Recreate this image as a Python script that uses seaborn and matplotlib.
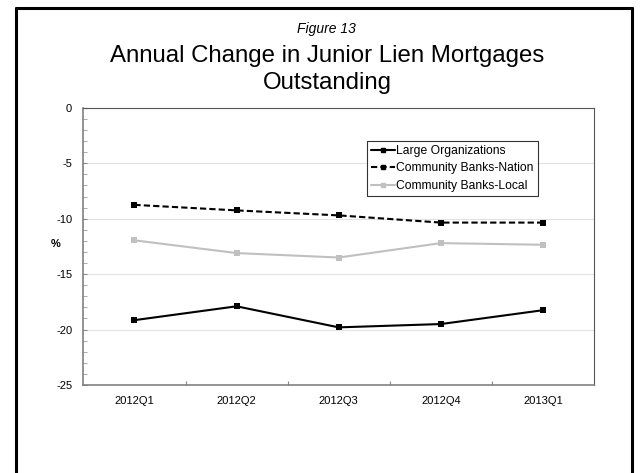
import matplotlib
matplotlib.use("Agg")
import matplotlib.pyplot as plt
import matplotlib.lines as mlines
from matplotlib.ticker import MultipleLocator, FixedLocator
import seaborn as sns
import pandas as pd

quarters = ["2012Q1", "2012Q2", "2012Q3", "2012Q4", "2013Q1"]
large_orgs = [-19.15, -17.9, -19.8, -19.5, -18.25]
community_nation = [-8.75, -9.25, -9.7, -10.35, -10.35]
community_local = [-11.95, -13.1, -13.5, -12.2, -12.35]

series_names = ["Large Organizations", "Community Banks-Nation", "Community Banks-Local"]

df = pd.DataFrame({
    "quarter": quarters * 3,
    "pos": list(range(len(quarters))) * 3,
    "value": large_orgs + community_nation + community_local,
    "series": [series_names[0]] * 5 + [series_names[1]] * 5 + [series_names[2]] * 5,
})

sns.set_theme(style="white")
plt.rcParams["font.family"] = ["Liberation Sans", "DejaVu Sans"]
plt.rcParams["axes.unicode_minus"] = False
plt.rcParams["text.color"] = "black"
plt.rcParams["axes.labelcolor"] = "black"
plt.rcParams["xtick.color"] = "black"
plt.rcParams["ytick.color"] = "black"

fig = plt.figure(figsize=(6.41, 4.73), dpi=100)
ax = fig.add_axes([0.130, 0.186, 0.797, 0.586])

palette = {series_names[0]: "black", series_names[1]: "black", series_names[2]: "#c0c0c0"}
dashes = {series_names[0]: "", series_names[1]: (3, 1.5), series_names[2]: ""}

sns.lineplot(data=df, x="pos", y="value", hue="series", style="series",
             palette=palette, dashes=dashes, markers={n: "s" for n in series_names},
             markersize=5, markeredgewidth=0, linewidth=1.5, ax=ax, legend=False)

ax.set_xlim(-0.5, 4.5)
ax.set_ylim(-25, 0)
ax.set_xticks(range(len(quarters)))
ax.set_xticklabels(quarters, fontsize=8)
ax.xaxis.set_minor_locator(FixedLocator([0.5, 1.5, 2.5, 3.5]))
ax.tick_params(axis="x", which="major", bottom=False, length=0, pad=8)
ax.tick_params(axis="x", which="minor", bottom=True, direction="in", length=3,
               color="#888888", width=0.8)
ax.set_yticks([-25, -20, -15, -10, -5, 0])
ax.yaxis.set_minor_locator(MultipleLocator(1))
ax.tick_params(axis="y", which="major", left=True, labelsize=8, direction="in", length=3,
               color="#888888", width=0.8, pad=8)
ax.tick_params(axis="y", which="minor", left=True, direction="in", length=3,
               color="#999999", width=0.6)
ax.set_xlabel("")
ax.set_ylabel("%", fontsize=8, fontweight="bold", rotation=0)
ax.yaxis.set_label_coords(-0.055, 0.49)

for yv in [-5, -10, -15, -20]:
    ax.axhline(yv, color="#e2e2e2", linewidth=0.8, zorder=0)

for side in ["left", "bottom"]:
    ax.spines[side].set_color("#808080")
    ax.spines[side].set_linewidth(1.2)
for side in ["top", "right"]:
    ax.spines[side].set_color("#555555")
    ax.spines[side].set_linewidth(0.8)

handles = [
    mlines.Line2D([], [], color="black", linestyle="-", marker="s", markersize=3.5, linewidth=1.5),
    mlines.Line2D([], [], color="black", linestyle=(0, (3, 1.5)), marker="s", markersize=3.5, linewidth=1.5),
    mlines.Line2D([], [], color="#c0c0c0", linestyle="-", marker="s", markersize=3.5, linewidth=1.5),
]
leg = ax.legend(handles, series_names, loc="upper left", bbox_to_anchor=(0.555, 0.881),
                fontsize=8.7, frameon=True, fancybox=False, shadow=False,
                handlelength=2.0, handletextpad=0.1, borderpad=0.35, labelspacing=0.45,
                borderaxespad=0)
leg.get_frame().set_edgecolor("black")
leg.get_frame().set_linewidth(0.8)

fig.text(0.51, 1 - 33 / 473, "Figure 13", ha="center", va="baseline", fontsize=10, style="italic")
fig.text(0.51, 1 - 62 / 473, "Annual Change in Junior Lien Mortgages", ha="center", va="baseline", fontsize=17.3)
fig.text(0.51, 1 - 88.5 / 473, "Outstanding", ha="center", va="baseline", fontsize=17.3)

# outer frame around the whole figure (open at the bottom)
x0, x1 = 16 / 641, 632 / 641
ytop = 1 - 8 / 473
for xs, ys in [([x0, x0], [-0.01, ytop]), ([x0, x1], [ytop, ytop]), ([x1, x1], [ytop, -0.01])]:
    fig.add_artist(mlines.Line2D(xs, ys, color="black", linewidth=2.2, transform=fig.transFigure))

fig.savefig("out.png", dpi=100)
